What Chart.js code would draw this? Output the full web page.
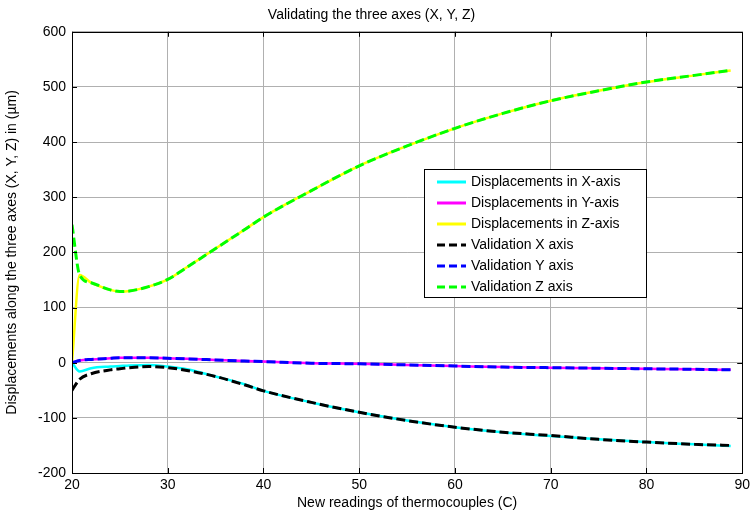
<!DOCTYPE html>
<html>
<head>
<meta charset="utf-8">
<script src="https://cdn.jsdelivr.net/npm/chart.js@4/dist/chart.umd.min.js"></script>
<style>
  html, body { margin: 0; padding: 0; background: #fff; }
  #wrap { width: 754px; height: 516px; }
</style>
</head>
<body>
<div id="wrap"><canvas id="chart" width="754" height="516"></canvas></div>
<script>
// readings of thermocouples (C)
const temps = [20, 20.8, 22, 24, 25, 26, 28, 30, 32, 35, 38, 40, 45, 50, 55, 60, 65, 70, 75, 80, 85, 88.8];

// measured displacements (um)
const dispX = [0, -16, -10, -7, -6, -5, -4, -7, -12, -25, -39, -51, -72, -90, -105, -117, -126, -133, -139, -144, -148, -151];
const dispY = [0, 4, 6, 8, 9, 9, 9, 8, 7, 5, 3, 2, -1, -2, -4, -6, -8, -9, -10, -11, -12, -13];
const dispZ = [0, 159, 145, 132, 129, 130, 138, 151, 173, 207, 241, 264, 312, 357, 393, 425, 452, 475, 493, 509, 521, 530];

// validation curves (um)
const valX = [-50, -30, -20, -13, -11, -9, -7, -9, -14, -25, -40, -51, -72, -90, -105, -117, -126, -132, -139, -144, -148, -150];
const valY = [0, 4, 6, 8, 9, 9, 9, 8, 7, 5, 3, 2, -1, -2, -4, -6, -8, -9, -10, -11, -12, -13];
const valZ = [250, 159, 145, 132, 129, 130, 138, 151, 173, 207, 241, 264, 312, 357, 393, 425, 452, 475, 493, 509, 521, 530];

const xTicks = [20, 30, 40, 50, 60, 70, 80, 90];
const yTicks = [-200, -100, 0, 100, 200, 300, 400, 500, 600];

const seriesLabels = [
  'Displacements in X-axis', 'Displacements in Y-axis', 'Displacements in Z-axis',
  'Validation X axis', 'Validation Y axis', 'Validation Z axis'
];
const seriesColors = ['#00ffff', '#ff00ff', '#ffff00', '#000000', '#0000ff', '#00ff00'];

const FONT = 'Liberation Sans, Arial, sans-serif';

function toPoints(ys) {
  return temps.map((t, i) => ({ x: t, y: ys[i] }));
}

const allSeries = [dispX, dispY, dispZ, valX, valY, valZ];
const datasets = allSeries.map((ys, i) => {
  const dashed = i >= 3;
  return {
    label: seriesLabels[i],
    data: toPoints(ys),
    borderColor: seriesColors[i],
    borderWidth: dashed ? 3 : 2.5,
    borderDash: dashed ? [9, 4] : [],
    pointRadius: 0,
    cubicInterpolationMode: 'monotone',
    order: dashed ? 1 : 2
  };
});

// box frame, inward tick marks and the legend inside the plot
const matlabLook = {
  id: 'matlabLook',
  afterDatasetsDraw(chart) {
    const ctx = chart.ctx;
    const a = chart.chartArea;
    const xs = chart.scales.x, ys = chart.scales.y;
    ctx.save();
    ctx.strokeStyle = '#000';
    ctx.lineWidth = 1;
    ctx.beginPath();
    xTicks.forEach(v => {
      const px = Math.round(xs.getPixelForValue(v)) + 0.5;
      ctx.moveTo(px, a.bottom); ctx.lineTo(px, a.bottom - 5);
      ctx.moveTo(px, a.top); ctx.lineTo(px, a.top + 5);
    });
    yTicks.forEach(v => {
      const py = Math.round(ys.getPixelForValue(v)) + 0.5;
      ctx.moveTo(a.left, py); ctx.lineTo(a.left + 5, py);
      ctx.moveTo(a.right, py); ctx.lineTo(a.right - 5, py);
    });
    ctx.stroke();
    ctx.strokeRect(Math.round(a.left) + 0.5, Math.round(a.top) + 0.5,
      Math.round(a.right - a.left), Math.round(a.bottom - a.top));

    // legend
    const lx = 424.5, ly = 169.5, lw = 222, lh = 128;
    ctx.fillStyle = '#fff';
    ctx.fillRect(lx, ly, lw, lh);
    ctx.strokeRect(lx, ly, lw, lh);
    ctx.font = '14px ' + FONT;
    ctx.textBaseline = 'middle';
    chart.data.datasets.forEach((ds, i) => {
      const cy = 182 + i * 21;
      ctx.strokeStyle = ds.borderColor;
      ctx.lineWidth = 3;
      ctx.setLineDash(ds.borderDash.length ? [8, 4] : []);
      ctx.beginPath();
      ctx.moveTo(437, cy); ctx.lineTo(466, cy);
      ctx.stroke();
      ctx.setLineDash([]);
      ctx.fillStyle = '#000';
      ctx.fillText(ds.label, 471, cy);
    });
    ctx.restore();
  }
};

new Chart(document.getElementById('chart'), {
  type: 'line',
  data: { datasets: datasets },
  options: {
    responsive: false,
    animation: false,
    layout: { padding: { left: 0, right: 11, top: 0, bottom: 0 } },
    plugins: {
      legend: { display: false },
      tooltip: { enabled: false },
      title: {
        display: true,
        text: 'Validating the three axes (X, Y, Z)',
        color: '#000',
        font: { family: FONT, size: 14, weight: 'normal' },
        padding: { top: 7, bottom: 8 }
      }
    },
    scales: {
      x: {
        type: 'linear',
        min: 20, max: 90,
        afterBuildTicks: s => { s.ticks = xTicks.map(v => ({ value: v })); },
        afterFit: s => { s.height = 43; },
        grid: { color: '#b0b0b0', drawTicks: false },
        border: { display: false },
        ticks: { color: '#000', padding: 4, font: { family: FONT, size: 14 } },
        title: {
          display: true,
          text: 'New readings of thermocouples (C)',
          color: '#000',
          font: { family: FONT, size: 14 },
          padding: { top: 0, bottom: 4 }
        }
      },
      y: {
        min: -200, max: 600,
        afterBuildTicks: s => { s.ticks = yTicks.map(v => ({ value: v })); },
        afterFit: s => { s.width = 72; },
        grid: { color: '#b0b0b0', drawTicks: false },
        border: { display: false },
        ticks: { color: '#000', padding: 6, font: { family: FONT, size: 14 } },
        title: {
          display: true,
          text: 'Displacements along the three axes (X, Y, Z) in (\u00b5m)',
          color: '#000',
          font: { family: FONT, size: 14 },
          padding: { top: 4, bottom: 0 }
        }
      }
    }
  },
  plugins: [matlabLook]
});
</script>
</body>
</html>
